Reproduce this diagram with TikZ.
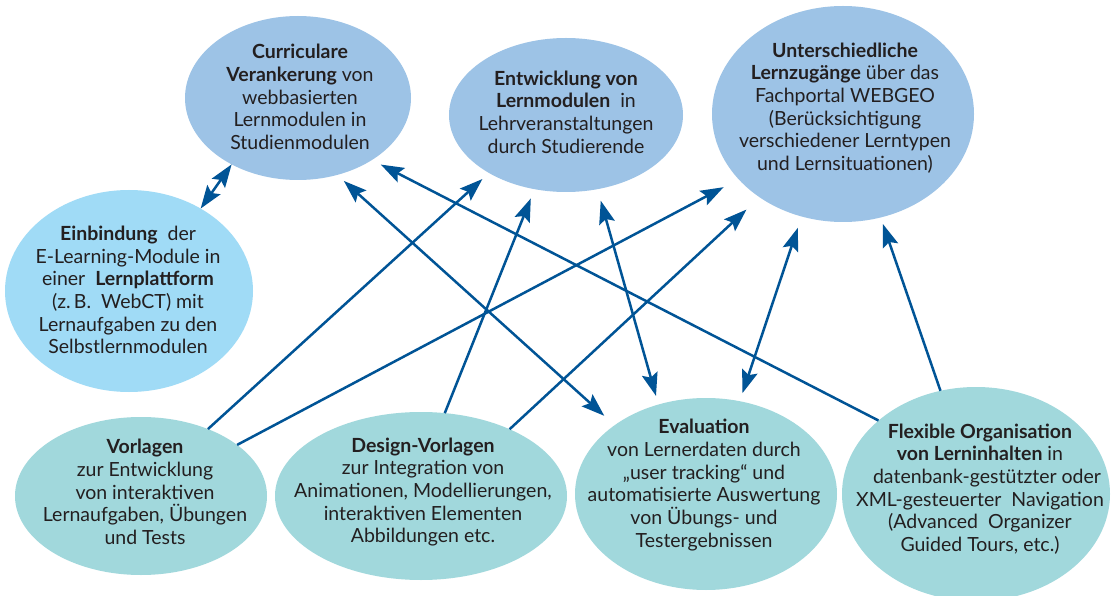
\documentclass[tikz,border=0pt]{standalone}
\usepackage{fontspec}
\setmainfont{Lato}
\usetikzlibrary{arrows.meta,shapes.geometric}
\pgfdeclarelayer{bg}
\pgfsetlayers{bg,main}
\definecolor{topblue}{RGB}{157,195,230}
\definecolor{skyblue}{RGB}{160,219,246}
\definecolor{tealfill}{RGB}{161,216,220}
\definecolor{arrowblue}{RGB}{0,84,150}
\definecolor{txtc}{RGB}{35,31,32}
\newcommand\bshadow[3]{%
  \begin{pgfonlayer}{bg}
    \foreach \k in {0,...,11} {
      \fill[black, opacity=0.07] ([shift={(7,9)}]#1.center) ellipse ({#2-8+\k*1.9} and {#3-8+\k*1.9});
    }
  \end{pgfonlayer}}
\tikzset{
  bub/.style={ellipse, inner sep=0pt, outer sep=0pt},
  lbl/.style={align=center, text=txtc, font=\fontsize{19.5}{22.7}\selectfont, inner sep=0pt},
  con/.style={draw=arrowblue, line width=2.5pt, >={Stealth[length=23pt,width=16pt,inset=4pt]}},
}
\begin{document}
\begin{tikzpicture}[x=1pt,y=-1pt]
\useasboundingbox[fill=white] (0,0) rectangle (1112,596);
% bubbles
\node[bub, fill=topblue, minimum width=226pt, minimum height=164pt] (cur) at (298,98) {};
\node[bub, fill=topblue, minimum width=234pt, minimum height=154pt] (ent) at (566,115) {};
\node[bub, fill=topblue, minimum width=262pt, minimum height=216pt] (unt) at (843,114) {};
\node[bub, fill=skyblue, minimum width=248pt, minimum height=202pt] (ein) at (129,291) {};
\node[bub, fill=tealfill, minimum width=252pt, minimum height=158pt] (vor) at (141,496) {};
\node[bub, fill=tealfill, minimum width=292pt, minimum height=168pt] (des) at (421,496) {};
\node[bub, fill=tealfill, minimum width=262pt, minimum height=192pt] (eva) at (706,494) {};
\node[bub, fill=tealfill, minimum width=268pt, minimum height=214pt] (fle) at (976,494) {};
\bshadow{cur}{113}{82}
\bshadow{ent}{117}{77}
\bshadow{unt}{131}{108}
\bshadow{ein}{124}{101}
\bshadow{vor}{126}{79}
\bshadow{des}{146}{84}
\bshadow{eva}{131}{96}
\bshadow{fle}{134}{107}
% texts
\node[lbl] (curt) at (300,97) {\textbf{Curriculare}\\\textbf{Verankerung} von\\webbasierten\\Lernmodulen in\\Studienmodulen};
\node[lbl] (entt) at (566,112) {\textbf{Entwicklung von}\\\textbf{Lernmodulen} \ in\\Lehrveranstaltungen\\durch Studierende};
\node[lbl] (untt) at (845,108) {\textbf{Unterschiedliche}\\\textbf{Lernzugänge} über das\\Fachportal WEBGEO\\(Berücksichtigung\\verschiedener Lerntypen\\und Lernsituationen)};
\node[lbl] (eint) at (128,290) {\textbf{Einbindung}\ \ der\\E-Learning-Module in\\einer\ \ \textbf{Lernplattform}\\(z.\,B.\ \ WebCT) mit\\Lernaufgaben zu den\\Selbstlernmodulen};
\node[lbl] (vort) at (145,492) {\textbf{Vorlagen}\\zur Entwicklung\\von interaktiven\\Lernaufgaben, Übungen\\und Tests};
\node[lbl] (dest) at (423,492) {\textbf{Design-Vorlagen}\\zur Integration von\\Animationen, Modellierungen,\\interaktiven Elementen\\Abbildungen etc.};
\node[lbl] (evat) at (704,485) {\textbf{Evaluation}\\von Lernerdaten durch\\„user tracking“ und\\automatisierte Auswertung\\von Übungs- und\\Testergebnissen};
\node[lbl] (flet) at (980,489) {\textbf{Flexible Organisation}\\\textbf{von Lerninhalten} in\\\hspace*{14pt}datenbank-gestützter oder\\XML-gesteuerter\ \ Navigation\\(Advanced\ \ Organizer\\Guided Tours, etc.)};
% connectors
\draw[con,<->] (ein.49.5) -- (cur.225);
\draw[con,->,shorten >=9pt] (vor.45) -- (ent.217.3);
\draw[con,->,shorten >=17pt] (vor.28.2) -- (unt.212.4);
\draw[con,->,shorten >=10pt] (des.74.4) -- (ent.247.4);
\draw[con,->,shorten >=18pt] (des.37.8) -- (unt.225.6);
\draw[con,<->,shorten <=9pt,shorten >=14pt] (cur.297.4) -- (eva.143.2);
\draw[con,->,shorten >=10pt] (fle.143) -- (cur.320.3);
\draw[con,<->,shorten <=12pt,shorten >=9pt] (ent.293.5) -- (eva.118.7);
\draw[con,<->,shorten <=12pt,shorten >=8.6pt] (unt.248) -- (eva.70.4);
\draw[con,->,shorten >=7pt] (fle.109.7) -- (unt.290.4);
\end{tikzpicture}
\end{document}
